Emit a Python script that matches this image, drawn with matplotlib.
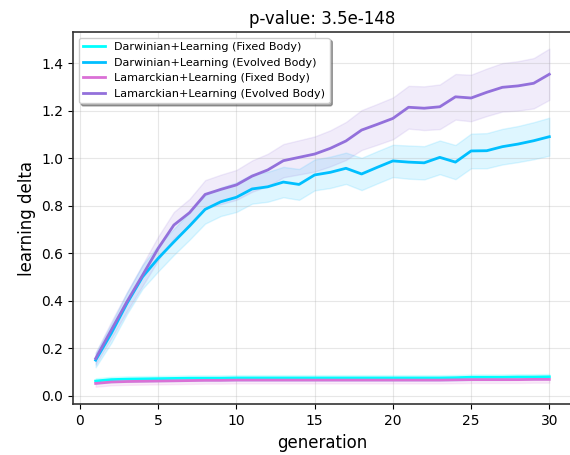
import numpy as np
import matplotlib
matplotlib.use("Agg")
import matplotlib.pyplot as plt

# generations 1..30
generations = np.arange(1, 31)

# mean learning delta per generation
darwin_fixed = [0.062, 0.068, 0.070, 0.071, 0.072, 0.073, 0.074, 0.074, 0.074, 0.075,
                0.075, 0.075, 0.075, 0.075, 0.075, 0.075, 0.075, 0.075, 0.075, 0.075,
                0.075, 0.075, 0.075, 0.076, 0.078, 0.078, 0.078, 0.079, 0.079, 0.080]
darwin_evolved = [0.150, 0.263, 0.389, 0.501, 0.579, 0.648, 0.715, 0.785, 0.817, 0.836,
                  0.871, 0.880, 0.900, 0.890, 0.930, 0.941, 0.958, 0.934, 0.962, 0.989,
                  0.984, 0.981, 1.004, 0.984, 1.031, 1.032, 1.049, 1.060, 1.074, 1.091]
lamarck_fixed = [0.052, 0.058, 0.060, 0.061, 0.062, 0.063, 0.064, 0.065, 0.065, 0.066,
                 0.066, 0.066, 0.066, 0.066, 0.066, 0.066, 0.066, 0.066, 0.066, 0.066,
                 0.066, 0.066, 0.066, 0.067, 0.068, 0.068, 0.068, 0.068, 0.069, 0.069]
lamarck_evolved = [0.157, 0.277, 0.396, 0.508, 0.621, 0.719, 0.771, 0.848, 0.869, 0.888,
                   0.925, 0.951, 0.990, 1.004, 1.018, 1.042, 1.073, 1.119, 1.143, 1.168,
                   1.215, 1.211, 1.217, 1.259, 1.254, 1.278, 1.299, 1.305, 1.316, 1.354]

# half width of the shaded confidence band
darwin_fixed_ci = [0.012, 0.012, 0.012, 0.012, 0.012, 0.012, 0.012, 0.012, 0.012, 0.012,
                   0.012, 0.012, 0.012, 0.012, 0.012, 0.012, 0.012, 0.012, 0.012, 0.012,
                   0.012, 0.012, 0.012, 0.012, 0.012, 0.012, 0.012, 0.012, 0.012, 0.012]
darwin_evolved_ci = [0.030, 0.040, 0.045, 0.050, 0.055, 0.055, 0.058, 0.060, 0.060, 0.062,
                     0.062, 0.063, 0.064, 0.065, 0.065, 0.066, 0.066, 0.068, 0.068, 0.068,
                     0.070, 0.070, 0.071, 0.072, 0.073, 0.074, 0.075, 0.076, 0.078, 0.080]
lamarck_fixed_ci = [0.014, 0.014, 0.014, 0.014, 0.014, 0.014, 0.014, 0.014, 0.014, 0.014,
                    0.014, 0.014, 0.014, 0.014, 0.014, 0.014, 0.014, 0.014, 0.014, 0.014,
                    0.014, 0.014, 0.014, 0.014, 0.014, 0.014, 0.014, 0.014, 0.014, 0.014]
lamarck_evolved_ci = [0.025, 0.035, 0.040, 0.045, 0.050, 0.055, 0.058, 0.060, 0.062, 0.063,
                      0.066, 0.068, 0.070, 0.072, 0.074, 0.076, 0.080, 0.084, 0.086, 0.088,
                      0.090, 0.092, 0.094, 0.096, 0.098, 0.100, 0.102, 0.104, 0.106, 0.108]

labels = ["Darwinian+Learning (Fixed Body)", "Darwinian+Learning (Evolved Body)",
          "Lamarckian+Learning (Fixed Body)", "Lamarckian+Learning (Evolved Body)"]
colors = ["#00FFFF", "#00BFFF", "#DA70D6", "#9370DB"]
means = [darwin_fixed, darwin_evolved, lamarck_fixed, lamarck_evolved]
cis = [darwin_fixed_ci, darwin_evolved_ci, lamarck_fixed_ci, lamarck_evolved_ci]

fig = plt.figure(figsize=(5.7, 4.55), dpi=100)
ax = fig.add_axes([0.128, 0.1114, 0.8755, 0.8183])

for m, c, col, lab in zip(means, cis, colors, labels):
    m = np.array(m)
    c = np.array(c)
    ax.plot(generations, m, color=col, linewidth=2, label=lab)
    ax.fill_between(generations, m - c, m + c, color=col, alpha=0.13)

ax.set_xlim(-0.45, 31.45)
ax.set_ylim(-0.036, 1.532)
ax.set_xticks(np.arange(0, 31, 5))
ax.set_yticks(np.arange(0, 1.41, 0.2))
ax.grid(alpha=0.3)
for s in ax.spines.values():
    s.set_color("#333333")
    s.set_linewidth(1.2)
ax.spines["right"].set_visible(False)   # sits just off the canvas in the ref

ax.set_title("p-value: 3.5e-148", fontsize=12)
ax.set_xlabel("generation", fontsize=12)
ax.set_ylabel("learning delta", fontsize=12)
ax.legend(loc="upper left", fontsize=8, shadow=True)

fig.savefig("out.png", dpi=100)
